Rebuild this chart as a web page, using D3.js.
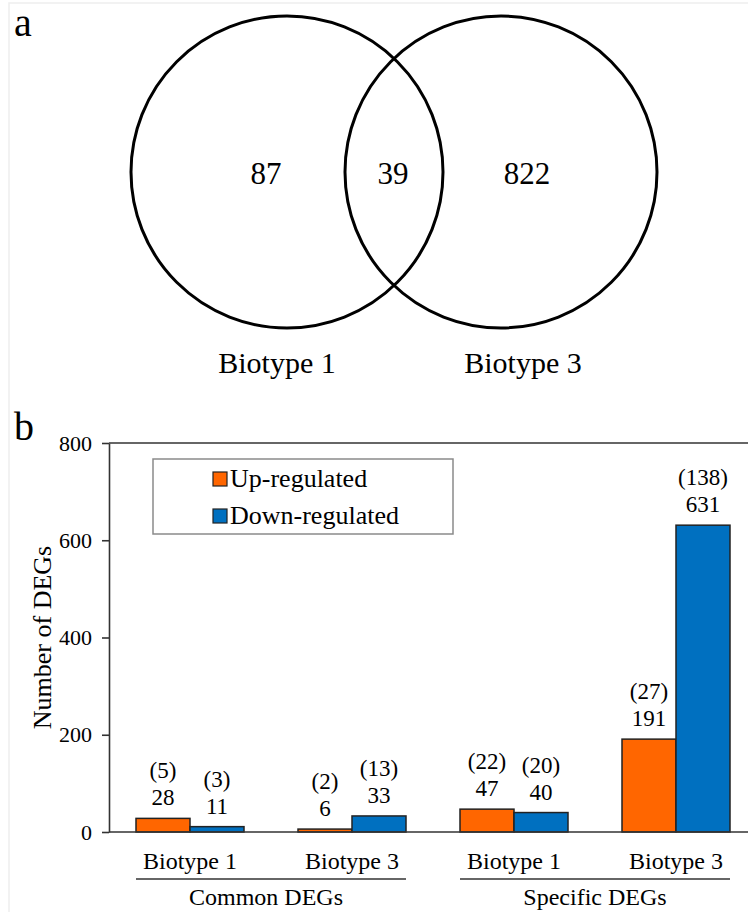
<!DOCTYPE html>
<html>
<head>
<meta charset="utf-8">
<script src="https://cdn.jsdelivr.net/npm/d3@7"></script>
<style>
  html, body { margin: 0; padding: 0; background: #fff; }
  svg { display: block; }
</style>
</head>
<body>
<svg id="chart" width="748" height="912"></svg>
<script>
// ---- Data ----
const vennLabels = ["Biotype 1", "Biotype 3"];
const vennValues = [87, 39, 822]; // only B1, overlap, only B3

const categories = ["Biotype 1", "Biotype 3", "Biotype 1", "Biotype 3"];
const superGroups = ["Common DEGs", "Specific DEGs"];
const seriesNames = ["Up-regulated", "Down-regulated"];
const upValues = [28, 6, 47, 191];
const downValues = [11, 33, 40, 631];
const upParen = [5, 2, 22, 27];
const downParen = [3, 13, 20, 138];
const yTicks = [0, 200, 400, 600, 800];
const colors = ["#FF6600", "#0070C0"];

const FONT = "'Liberation Serif', 'Times New Roman', Times, serif";
const svg = d3.select("#chart");

// faint figure frame
svg.append("path").attr("d", "M9,912 V3 H748").attr("fill", "none")
  .attr("stroke", "#eeeeee").attr("stroke-width", 1.5);

// ---- Panel a: Venn ----
svg.append("text").attr("x", 14).attr("y", 36).attr("font-size", 40).text("a");

const vx = d3.scaleLinear().domain([0, 1]).range([287, 501]);
const vr = 156, vcy = 172;
svg.selectAll("circle.venn").data(vennLabels).join("circle")
  .attr("class", "venn")
  .attr("cx", (d, i) => vx(i)).attr("cy", vcy).attr("r", vr)
  .attr("fill", "none").attr("stroke", "#000").attr("stroke-width", 3);

const vnumX = [266, 393, 527];
svg.selectAll("text.vnum").data(vennValues).join("text")
  .attr("class", "vnum")
  .attr("x", (d, i) => vnumX[i]).attr("y", 184)
  .attr("text-anchor", "middle").attr("font-size", 31).text(d => d);

const vlabX = [277, 523];
svg.selectAll("text.vlab").data(vennLabels).join("text")
  .attr("class", "vlab")
  .attr("x", (d, i) => vlabX[i]).attr("y", 373)
  .attr("text-anchor", "middle").attr("font-size", 30).text(d => d);

// ---- Panel b: bar chart ----
svg.append("text").attr("x", 14).attr("y", 440).attr("font-size", 40).text("b");

const x0 = 109, xEnd = 757;
const y = d3.scaleLinear().domain([0, 800]).range([832, 443]);
const x = d3.scaleBand().domain(d3.range(categories.length))
  .range([x0, xEnd]).paddingInner(1/3).paddingOuter(1/6);
const xs = d3.scaleBand().domain(seriesNames).range([0, x.bandwidth()]);

// y axis
const yAxis = d3.axisLeft(y).tickValues(yTicks).tickSize(7).tickPadding(10).tickSizeOuter(0);
const gy = svg.append("g").attr("transform", `translate(${x0},0)`).call(yAxis);
gy.attr("font-family", null).attr("font-size", null);
gy.select(".domain").attr("stroke", "#333").attr("stroke-width", 1.6);
gy.selectAll(".tick line").attr("stroke", "#333").attr("stroke-width", 1.6);
gy.selectAll(".tick text").attr("font-size", 22).attr("fill", "#000");

// top frame line
svg.append("line").attr("x1", x0).attr("x2", 748).attr("y1", y(800)).attr("y2", y(800))
  .attr("stroke", "#333").attr("stroke-width", 1.6);

// bars
const barData = [];
categories.forEach((c, i) => {
  barData.push({ i, s: 0, v: upValues[i], p: upParen[i] });
  barData.push({ i, s: 1, v: downValues[i], p: downParen[i] });
});
svg.selectAll("rect.bar").data(barData).join("rect")
  .attr("class", "bar")
  .attr("x", d => x(d.i) + xs(seriesNames[d.s]))
  .attr("y", d => y(d.v))
  .attr("width", xs.bandwidth())
  .attr("height", d => y(0) - y(d.v))
  .attr("fill", d => colors[d.s])
  .attr("stroke", "#222").attr("stroke-width", 1.5);

svg.append("line").attr("x1", x0).attr("x2", 748).attr("y1", y(0)).attr("y2", y(0))
  .attr("stroke", "#333").attr("stroke-width", 1.6);

// value labels
const cx = d => x(d.i) + xs(seriesNames[d.s]) + xs.bandwidth() / 2;
svg.selectAll("text.val").data(barData).join("text")
  .attr("class", "val")
  .attr("x", cx).attr("y", d => y(d.v) - 13)
  .attr("text-anchor", "middle").attr("font-size", 23).text(d => d.v);
svg.selectAll("text.par").data(barData).join("text")
  .attr("class", "par")
  .attr("x", cx).attr("y", d => y(d.v) - 40)
  .attr("text-anchor", "middle").attr("font-size", 23).text(d => `(${d.p})`);

// category labels
svg.selectAll("text.cat").data(categories).join("text")
  .attr("class", "cat")
  .attr("x", (d, i) => x(i) + x.bandwidth() / 2).attr("y", 869)
  .attr("text-anchor", "middle").attr("font-size", 24).text(d => d);

// group underlines and labels
superGroups.forEach((g, k) => {
  const a = x(2 * k), b = x(2 * k + 1) + x.bandwidth();
  svg.append("line").attr("x1", a).attr("x2", b).attr("y1", 879).attr("y2", 879)
    .attr("stroke", "#333").attr("stroke-width", 1.6);
  svg.append("text").attr("x", (a + b) / 2 - (k === 0 ? 5 : 0)).attr("y", 905)
    .attr("text-anchor", "middle").attr("font-size", 24).text(g);
});

// y title
svg.append("text")
  .attr("transform", `translate(51,${(y(0) + y(800)) / 2}) rotate(-90)`)
  .attr("text-anchor", "middle").attr("font-size", 26).text("Number of DEGs");

// legend
const lg = svg.append("g");
lg.append("rect").attr("x", 153).attr("y", 459).attr("width", 300).attr("height", 75)
  .attr("fill", "#fff").attr("stroke", "#8a8a8a").attr("stroke-width", 1.5);
const ly = d3.scalePoint().domain(seriesNames).range([479, 516]);
seriesNames.forEach((n, i) => {
  lg.append("rect").attr("x", 213).attr("y", ly(n) - 7).attr("width", 14).attr("height", 14)
    .attr("fill", colors[i]).attr("stroke", "#222").attr("stroke-width", 1.2);
  lg.append("text").attr("x", 230).attr("y", ly(n) + 8).attr("font-size", 26).text(n);
});

// apply serif font to all texts
svg.selectAll("text").style("font-family", FONT).attr("fill", "#000");
</script>
</body>
</html>
